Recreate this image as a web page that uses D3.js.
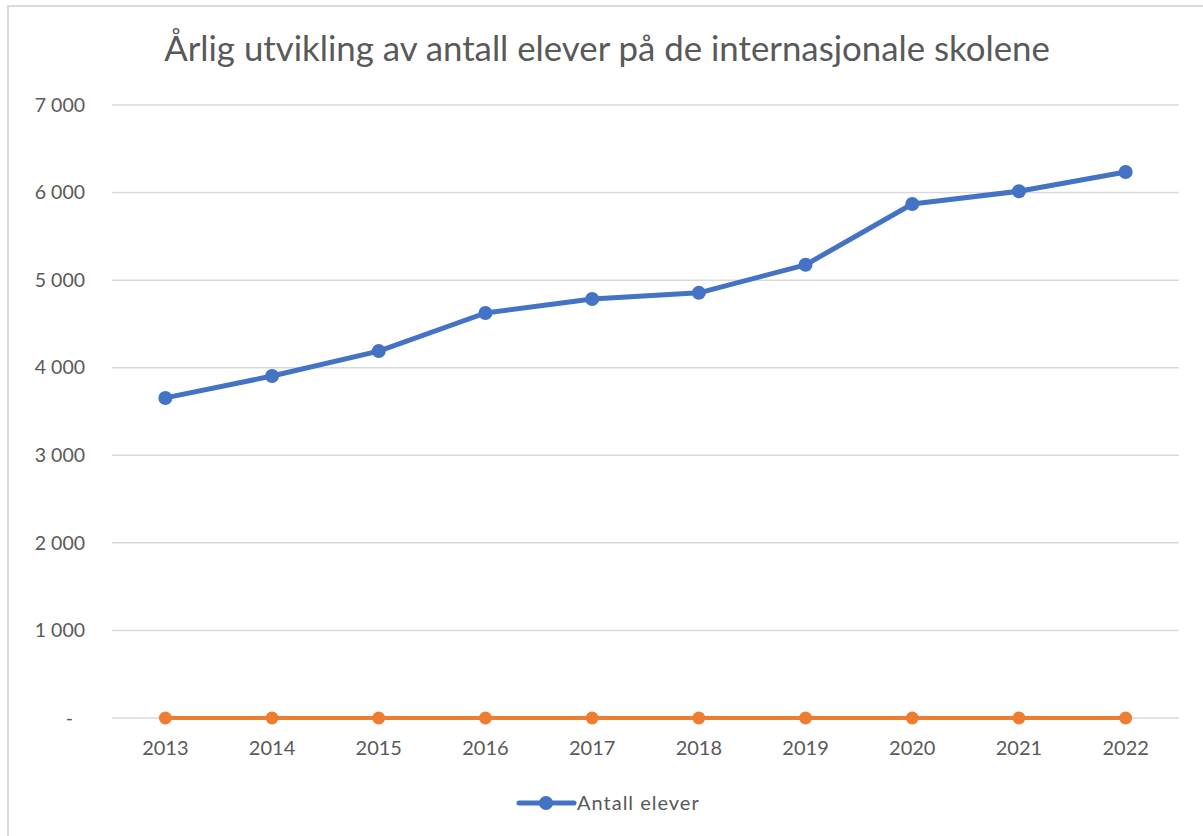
<!DOCTYPE html>
<html><head><meta charset="utf-8">
<script src="https://cdn.jsdelivr.net/npm/d3@7"></script>
<style>body{margin:0;background:#fff;}svg{display:block;}</style>
</head><body>
<svg id="c" width="1203" height="836"></svg>
<script>
const years = ["2013","2014","2015","2016","2017","2018","2019","2020","2021","2022"];
const antallElever = [3655, 3905, 4190, 4625, 4785, 4855, 5175, 5870, 6015, 6235];
const series2 = [0, 0, 0, 0, 0, 0, 0, 0, 0, 0];
const yTicks = [0, 1000, 2000, 3000, 4000, 5000, 6000, 7000];
const title = "Årlig utvikling av antall elever på de internasjonale skolene";
const legendLabel = "Antall elever";

const svg = d3.select("#c");
const font = "Lato, 'Open Sans', sans-serif";
// border
svg.append("rect").attr("x", 8).attr("y", 6).attr("width", 1210).attr("height", 850)
  .attr("fill", "none").attr("stroke", "#d9d9d9").attr("stroke-width", 2);

const x = d3.scaleBand().domain(years).range([112, 1179]);
const y = d3.scaleLinear().domain([0, 7000]).range([718, 105]);

// gridlines
svg.append("g").selectAll("line").data(yTicks).join("line")
  .attr("x1", 112).attr("x2", 1179)
  .attr("y1", d => y(d)).attr("y2", d => y(d))
  .attr("stroke", "#d9d9d9").attr("stroke-width", 1.5);

const fmt = d => d === 0 ? "-" : d3.format(",")(d).replace(/,/g, " ");
const yAxis = svg.append("g").attr("transform", "translate(85,0)")
  .call(d3.axisLeft(y).tickValues(yTicks).tickFormat(fmt).tickSize(0).tickPadding(0));
yAxis.select(".domain").remove();
yAxis.selectAll("text").attr("font-family", font).attr("font-size", 19.5).attr("fill", "#595959")
  .attr("dx", d => d === 0 ? -12 : 0);

const xAxis = svg.append("g").attr("transform", "translate(0,718)")
  .call(d3.axisBottom(x).tickSize(0).tickPadding(23));
xAxis.select(".domain").remove();
xAxis.selectAll("text").attr("font-family", font).attr("font-size", 20).attr("fill", "#595959");

const cx = d => x(d) + x.bandwidth() / 2;
const line = d3.line().x((d, i) => cx(years[i])).y(d => y(d));

svg.append("path").datum(series2).attr("d", line).attr("fill", "none")
  .attr("stroke", "#ed7d31").attr("stroke-width", 4);
svg.append("g").selectAll("circle").data(series2).join("circle")
  .attr("cx", (d, i) => cx(years[i])).attr("cy", d => y(d)).attr("r", 6.5).attr("fill", "#ed7d31");

svg.append("path").datum(antallElever).attr("d", line).attr("fill", "none")
  .attr("stroke", "#4472c4").attr("stroke-width", 5).attr("stroke-linejoin", "round");
svg.append("g").selectAll("circle").data(antallElever).join("circle")
  .attr("cx", (d, i) => cx(years[i])).attr("cy", d => y(d)).attr("r", 7).attr("fill", "#4472c4");

svg.append("text").attr("x", 607).attr("y", 61).attr("text-anchor", "middle")
  .attr("font-family", font).attr("font-size", 34.8).attr("fill", "#595959").text(title);

// legend
svg.append("line").attr("x1", 519).attr("x2", 574).attr("y1", 803).attr("y2", 803)
  .attr("stroke", "#4472c4").attr("stroke-width", 5).attr("stroke-linecap", "round");
svg.append("circle").attr("cx", 546).attr("cy", 803).attr("r", 7).attr("fill", "#4472c4");
svg.append("text").attr("x", 577).attr("y", 810).attr("font-family", font).attr("font-size", 20)
  .attr("letter-spacing", 1).attr("fill", "#595959").text(legendLabel);
</script>
</body></html>
